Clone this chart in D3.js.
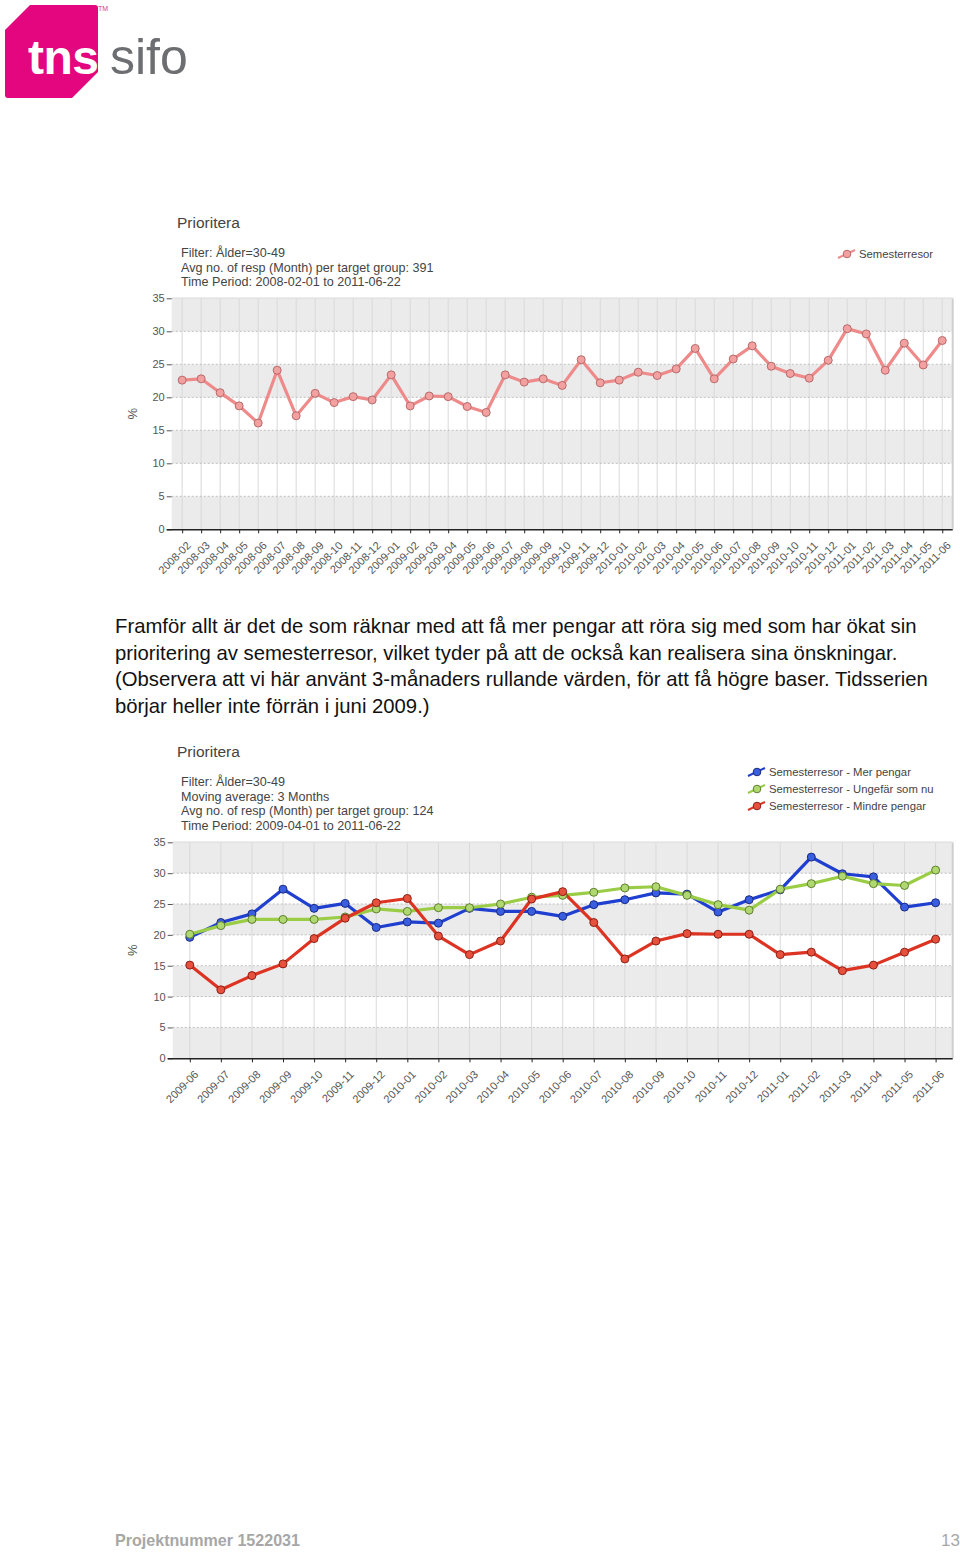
<!DOCTYPE html>
<html><head><meta charset="utf-8">
<script src="https://cdn.jsdelivr.net/npm/d3@7"></script>
<style>
body{margin:0;background:#fff;}
svg{display:block;font-family:"Liberation Sans",Arial,sans-serif;}
</style></head><body>
<svg id="page" width="960" height="1553"></svg>
<script>
// ---------- DATA ----------
const months1 = ["2008-02","2008-03","2008-04","2008-05","2008-06","2008-07","2008-08","2008-09","2008-10","2008-11","2008-12",
  "2009-01","2009-02","2009-03","2009-04","2009-05","2009-06","2009-07","2009-08","2009-09","2009-10","2009-11","2009-12",
  "2010-01","2010-02","2010-03","2010-04","2010-05","2010-06","2010-07","2010-08","2010-09","2010-10","2010-11","2010-12",
  "2011-01","2011-02","2011-03","2011-04","2011-05","2011-06"];
const semesterresor = [22.6,22.8,20.7,18.7,16.1,24.1,17.2,20.6,19.2,20.1,19.6,
  23.4,18.7,20.2,20.1,18.6,17.7,23.4,22.3,22.8,21.8,25.7,22.2,
  22.6,23.8,23.3,24.3,27.4,22.8,25.8,27.8,24.7,23.6,22.9,25.6,
  30.4,29.6,24.1,28.2,24.9,28.6];

const months2 = ["2009-06","2009-07","2009-08","2009-09","2009-10","2009-11","2009-12",
  "2010-01","2010-02","2010-03","2010-04","2010-05","2010-06","2010-07","2010-08","2010-09","2010-10","2010-11","2010-12",
  "2011-01","2011-02","2011-03","2011-04","2011-05","2011-06"];
const merPengar    = [19.6,22.0,23.4,27.4,24.3,25.1,21.2,22.1,21.9,24.3,23.8,23.8,23.0,24.9,25.7,26.8,26.6,23.7,25.7,27.3,32.6,29.9,29.4,24.5,25.2];
const ungefarSomNu = [20.1,21.5,22.5,22.5,22.5,22.9,24.2,23.8,24.4,24.4,25.0,26.1,26.4,26.9,27.6,27.8,26.4,24.9,24.0,27.4,28.3,29.5,28.3,28.0,30.5];
const mindrePengar = [15.1,11.1,13.4,15.3,19.4,22.7,25.2,25.9,19.8,16.8,19.0,25.8,27.0,22.0,16.1,19.0,20.2,20.1,20.1,16.8,17.2,14.2,15.1,17.2,19.3];

const yTicks = [0,5,10,15,20,25,30,35];

const paragraph = [
  "Framför allt är det de som räknar med att få mer pengar att röra sig med som har ökat sin",
  "prioritering av semesterresor, vilket tyder på att de också kan realisera sina önskningar.",
  "(Observera att vi här använt 3-månaders rullande värden, för att få högre baser. Tidsserien",
  "börjar heller inte förrän i juni 2009.)"
];

// ---------- PAGE ----------
const svg = d3.select("#page");

// logo
const logo = svg.append("g");
logo.append("path")
  .attr("d","M5,30 L30,5 L95,5 Q98,5 98,8 L98,72 L72,98 L8,98 Q5,98 5,95 Z")
  .attr("fill","#e4067e");
logo.append("text").attr("x",28).attr("y",74).attr("font-size",48).attr("font-weight","bold")
  .attr("fill","#fff").attr("letter-spacing",-0.5).text("tns");
logo.append("text").attr("x",110).attr("y",74).attr("font-size",50)
  .attr("fill","#6d6e71").text("sifo");
logo.append("text").attr("x",98).attr("y",11).attr("font-size",7).attr("fill","#d04090").text("TM");

// paragraph
svg.append("g").selectAll("text").data(paragraph).join("text")
  .attr("x",115).attr("y",(d,i)=>633+i*26.5)
  .attr("font-size",20.3).attr("fill","#111").text(d=>d);

// footer
svg.append("text").attr("x",115).attr("y",1546).attr("font-size",17)
  .attr("font-family","'Liberation Sans Narrow','Liberation Sans',Arial,sans-serif")
  .attr("font-weight","bold").attr("fill","#a7a7a7")
  .attr("textLength",185).attr("lengthAdjust","spacingAndGlyphs").text("Projektnummer 1522031");
svg.append("text").attr("x",960).attr("y",1546).attr("font-size",17).attr("text-anchor","end")
  .attr("font-family","'Liberation Sans Narrow','Liberation Sans',Arial,sans-serif")
  .attr("fill","#a7a7a7").text("13");

// ---------- CHART FUNCTION ----------
function drawChart(cfg){
  const g = svg.append("g");
  const x = d3.scalePoint().domain(cfg.categories).range([cfg.left,cfg.right]).padding(0.55);
  const y = d3.scaleLinear().domain([0,35]).range([cfg.bottom,cfg.top]);

  // title & subtitle
  g.append("text").attr("x",177).attr("y",cfg.titleY).attr("font-size",15.5).attr("fill","#444").text("Prioritera");
  g.selectAll(".sub").data(cfg.subtitle).join("text")
    .attr("x",181).attr("y",(d,i)=>cfg.subY+i*14.6).attr("font-size",12.6).attr("fill","#444").text(d=>d);

  // bands
  for(let i=0;i<yTicks.length-1;i++){
    g.append("rect").attr("x",cfg.left).attr("width",cfg.right-cfg.left)
      .attr("y",y(yTicks[i+1])).attr("height",y(yTicks[i])-y(yTicks[i+1]))
      .attr("fill", i%2===0 ? "#ebebeb" : "#ffffff");
  }
  // vertical grid
  g.selectAll(".vg").data(cfg.categories).join("line")
    .attr("x1",d=>x(d)).attr("x2",d=>x(d)).attr("y1",cfg.top).attr("y2",cfg.bottom)
    .attr("stroke","#d9d9d9").attr("stroke-width",1);
  // horizontal dashed grid
  g.selectAll(".hg").data(yTicks.slice(1)).join("line")
    .attr("x1",cfg.left).attr("x2",cfg.right).attr("y1",d=>y(d)).attr("y2",d=>y(d))
    .attr("stroke","#bdbdbd").attr("stroke-dasharray","2,2").attr("stroke-width",1);
  // right border shadow
  g.append("line").attr("x1",cfg.right).attr("x2",cfg.right).attr("y1",cfg.top).attr("y2",cfg.bottom)
    .attr("stroke","#cfcfcf").attr("stroke-width",2);
  g.append("line").attr("x1",cfg.left).attr("x2",cfg.right).attr("y1",cfg.top).attr("y2",cfg.top)
    .attr("stroke","#e2e2e2").attr("stroke-width",1.5);

  // y axis
  const ya = g.append("g").attr("transform",`translate(${cfg.left},0)`)
    .call(d3.axisLeft(y).tickValues(yTicks).tickSize(5).tickPadding(2));
  ya.select(".domain").remove();
  ya.selectAll(".tick line").attr("stroke","#555");
  ya.selectAll(".tick text").attr("font-size",11).attr("fill","#555").attr("font-family","'Liberation Sans',Arial,sans-serif");

  // x axis
  const xa = g.append("g").attr("transform",`translate(0,${cfg.bottom})`)
    .call(d3.axisBottom(x).tickSize(4).tickPadding(0));
  xa.select(".domain").attr("d",`M${cfg.left-5},0.5H${cfg.right}`).attr("stroke","#222").attr("stroke-width",1.6);
  xa.selectAll(".tick line").attr("stroke","#222");
  xa.selectAll(".tick text").attr("font-size",11).attr("fill","#555")
    .attr("font-family","'Liberation Sans',Arial,sans-serif")
    .attr("text-anchor","end").attr("dy",0)
    .attr("transform","translate(6,14) rotate(-45)");

  // % label
  g.append("text").attr("transform",`translate(${cfg.pctX},${(cfg.top+cfg.bottom)/2}) rotate(-90)`)
    .attr("text-anchor","middle").attr("font-size",13).attr("fill","#555").text("%");

  // series
  const line = d3.line().x((d,i)=>x(cfg.categories[i])).y(d=>y(d));
  cfg.series.forEach(s=>{
    g.append("path").datum(s.values).attr("d",line).attr("fill","none")
      .attr("stroke",s.line).attr("stroke-width",s.width).attr("stroke-linejoin","round");
  });
  cfg.series.forEach(s=>{
    g.selectAll(null).data(s.values).join("circle")
      .attr("cx",(d,i)=>x(cfg.categories[i])).attr("cy",d=>y(d)).attr("r",s.r)
      .attr("fill",s.fill).attr("stroke",s.stroke).attr("stroke-width",1);
  });

  // legend
  cfg.series.forEach((s,i)=>{
    const ly = cfg.legendY + i*17;
    const lg = g.append("g").attr("transform",`translate(${cfg.legendX},${ly})`);
    lg.append("line").attr("x1",0).attr("y1",4).attr("x2",17).attr("y2",-4)
      .attr("stroke",s.line).attr("stroke-width",2);
    lg.append("circle").attr("cx",9).attr("cy",0).attr("r",3.8).attr("fill",s.fill).attr("stroke",s.stroke);
    lg.append("text").attr("x",21).attr("y",4).attr("font-size",11.3).attr("fill","#444").text(s.name);
  });
}

drawChart({
  categories: months1,
  left:171.7, right:952.7, top:298.3, bottom:529.3,
  titleY:228, subY:257, pctX:137,
  subtitle:["Filter: Ålder=30-49","Avg no. of resp (Month) per target group: 391","Time Period: 2008-02-01 to 2011-06-22"],
  legendX:838, legendY:254,
  series:[{name:"Semesterresor", values:semesterresor, line:"#ee8a8a", width:3.2, fill:"#f2a0a0", stroke:"#b86a6a", r:4}]
});

drawChart({
  categories: months2,
  left:172.7, right:952.7, top:842.3, bottom:1058.3,
  titleY:757, subY:786, pctX:137,
  subtitle:["Filter: Ålder=30-49","Moving average: 3 Months","Avg no. of resp (Month) per target group: 124","Time Period: 2009-04-01 to 2011-06-22"],
  legendX:748, legendY:772,
  series:[
    {name:"Semesterresor - Mer pengar", values:merPengar, line:"#1f3fd0", width:3.2, fill:"#3a5ee0", stroke:"#1a2a80", r:4},
    {name:"Semesterresor - Ungefär som nu", values:ungefarSomNu, line:"#9acd45", width:3.2, fill:"#b0d870", stroke:"#5f7f30", r:4},
    {name:"Semesterresor - Mindre pengar", values:mindrePengar, line:"#dd3322", width:3.2, fill:"#e8503e", stroke:"#8a2015", r:4}
  ]
});
</script>
</body></html>
